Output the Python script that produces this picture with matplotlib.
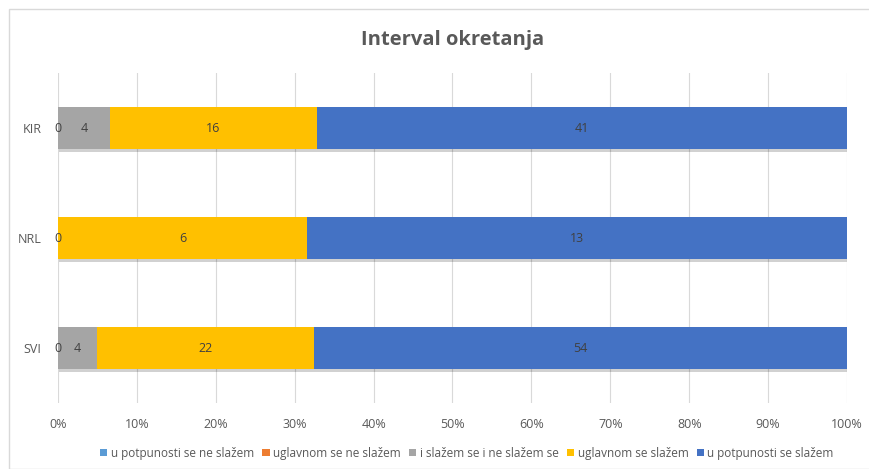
import matplotlib
matplotlib.use("Agg")
import matplotlib.pyplot as plt
import matplotlib.patheffects as pe
from matplotlib.patches import Rectangle
from matplotlib.ticker import FuncFormatter
import numpy as np

plt.rcParams['font.family'] = ['Open Sans', 'DejaVu Sans']

categories = ["SVI", "NRL", "KIR"]
series_names = ["u potpunosti se ne slažem", "uglavnom se ne slažem",
                "i slažem se i ne slažem se", "uglavnom se slažem",
                "u potpunosti se slažem"]
colors = ["#5B9BD5", "#ED7D31", "#A5A5A5", "#FFC000", "#4472C4"]
ne_potpuno = [0, 0, 0]
ne_uglavnom = [0, 0, 0]
neutral = [4, 0, 4]
uglavnom = [22, 6, 16]
potpuno = [54, 13, 41]

data = np.array([ne_potpuno, ne_uglavnom, neutral, uglavnom, potpuno], dtype=float)
totals = data.sum(axis=0)
pct = data / totals

fig = plt.figure(figsize=(8.7, 4.69), dpi=100)
ax = fig.add_axes([58/870, 1-403/469, (847-58)/870, (403-73)/469])

txt = "#595959"
lbl = "#404040"
y = np.arange(len(categories))
left = np.zeros(len(categories))
for i, (name, c) in enumerate(zip(series_names, colors)):
    bars = ax.barh(y, pct[i], left=left, height=0.39, color=c, label=name,
                   zorder=3)
    for b in bars:
        b.set_path_effects([pe.SimplePatchShadow(offset=(1, -2), shadow_rgbFace='#000000', alpha=0.18), pe.Normal()])
    for j in range(len(categories)):
        v = data[i, j]
        # show the zero label once per bar (at the bar start)
        if v == 0:
            if i == 0:
                ax.text(left[j] + pct[i, j] / 2, y[j], "0", ha="center", va="center",
                        fontsize=9, color=lbl, zorder=5)
            continue
        ax.text(left[j] + pct[i, j] / 2, y[j], f"{int(v)}", ha="center", va="center",
                fontsize=9, color=lbl, zorder=5)
    left += pct[i]

ax.set_xlim(0, 1)
ax.set_ylim(-0.5, len(categories) - 0.5)
ax.set_xticks(np.linspace(0, 1, 11))
ax.xaxis.set_major_formatter(FuncFormatter(lambda v, p: f"{int(round(v*100))}%"))
ax.set_yticks(y)
ax.set_yticklabels(categories)
ax.tick_params(axis='both', length=0, colors=txt, labelsize=9)
ax.tick_params(axis='x', pad=11)
ax.tick_params(axis='y', pad=12)
ax.grid(axis='x', color="#D9D9D9", linewidth=0.8, zorder=0)
for s in ax.spines.values():
    s.set_visible(False)

fig.suptitle("Interval okretanja", x=(58+847)/2/870, y=1-40/469, va="center",
             fontsize=14.5, fontweight="bold", color=txt)

leg = fig.legend(loc="center", bbox_to_anchor=(467/870, 1-453/469), ncol=5,
                 frameon=False, fontsize=8.5, handlelength=0.6, handleheight=0.6,
                 handletextpad=0.3, columnspacing=0.7, labelcolor=txt)
for h in leg.legend_handles:
    h.set_path_effects([])

fig.patches.append(Rectangle((9/870, 0), 1, 1-9/469, transform=fig.transFigure,
                             fill=False, edgecolor="#D9D9D9", linewidth=1))

fig.savefig("out.png", dpi=100)
